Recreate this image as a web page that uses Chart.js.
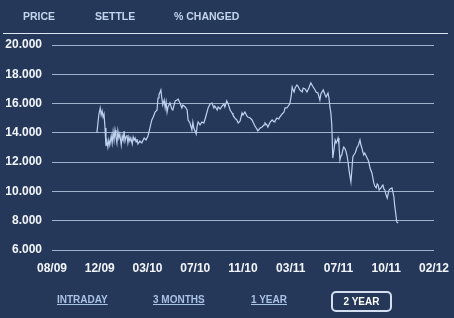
<!DOCTYPE html>
<html>
<head>
<meta charset="utf-8">
<script src="https://cdn.jsdelivr.net/npm/chart.js@4.4.1/dist/chart.umd.min.js"></script>
<style>
  html, body { margin: 0; padding: 0; background: #25385a; }
  #wrap { position: relative; width: 454px; height: 318px; overflow: hidden; background: #25385a;
          font-family: "Liberation Sans", Arial, sans-serif; }
  #c { position: absolute; left: 0; top: 0; }
  .hdr { position: absolute; top: 10px; font-size: 10.5px; font-weight: bold; color: #c3d4ec; line-height: 12px; white-space: nowrap; }
  #hline { position: absolute; left: 3px; top: 33px; width: 445px; height: 1px; background: #dbe5f3; }
  .btn { position: absolute; top: 294px; font-size: 10px; font-weight: bold; color: #a9c1e3; line-height: 12px;
         text-decoration: underline; white-space: nowrap; }
  #sel { position: absolute; left: 331px; top: 291px; width: 57px; height: 17px; border: 2px solid #d3dff0;
         border-radius: 5px; font-size: 10px; font-weight: bold; color: #ffffff; line-height: 17px; text-align: center; }
</style>
</head>
<body>
<div id="wrap">
  <canvas id="c" width="454" height="318"></canvas>
  <div class="hdr" style="left:23px">PRICE</div>
  <div class="hdr" style="left:95px">SETTLE</div>
  <div class="hdr" style="left:174px">% CHANGED</div>
  <div id="hline"></div>
  <div class="btn" style="left:57px">INTRADAY</div>
  <div class="btn" style="left:153px">3 MONTHS</div>
  <div class="btn" style="left:251px">1 YEAR</div>
  <div id="sel">2 YEAR</div>
</div>
<script>
// Tick labels along the time axis (evenly spaced positions 0..8)
const tickLabels = ["08/09", "12/09", "03/10", "07/10", "11/10", "03/11", "07/11", "10/11", "02/12"];

// Series: position on the time axis (in tick units) and price
const xPos = [
  0.94,0.98,1.01,1.03,1.05,1.07,1.09,1.11,1.13,1.15,1.17,1.19,1.21,1.24,1.26,1.28,1.30,1.32,1.34,1.36,
  1.38,1.40,1.42,1.45,1.47,1.49,1.51,1.53,1.55,1.57,1.59,1.61,1.63,1.65,1.68,1.70,1.72,1.74,1.76,1.78,
  1.80,1.84,1.88,1.93,1.97,2.01,2.05,2.09,2.12,2.16,2.20,2.22,2.24,2.28,2.30,2.32,2.35,2.37,2.39,2.41,
  2.43,2.47,2.51,2.53,2.58,2.62,2.64,2.68,2.72,2.74,2.79,2.83,2.85,2.89,2.93,2.95,2.97,3.02,3.04,3.06,
  3.10,3.14,3.18,3.20,3.23,3.27,3.31,3.35,3.39,3.41,3.46,3.48,3.52,3.56,3.60,3.62,3.66,3.69,3.73,3.77,
  3.79,3.83,3.87,3.90,3.94,3.98,4.00,4.04,4.08,4.10,4.15,4.19,4.23,4.25,4.29,4.31,4.36,4.40,4.44,4.46,
  4.50,4.52,4.57,4.61,4.65,4.67,4.71,4.75,4.77,4.82,4.86,4.88,4.92,4.96,4.98,5.01,5.03,5.05,5.07,5.09,
  5.13,5.15,5.19,5.24,5.26,5.30,5.34,5.38,5.42,5.47,5.51,5.53,5.57,5.61,5.63,5.68,5.72,5.74,5.78,5.80,
  5.82,5.84,5.86,5.88,5.91,5.93,5.95,5.97,5.99,6.01,6.03,6.05,6.07,6.09,6.11,6.14,6.16,6.18,6.20,6.22,
  6.26,6.28,6.30,6.32,6.35,6.37,6.39,6.41,6.45,6.47,6.49,6.51,6.53,6.55,6.60,6.62,6.64,6.66,6.70,6.72,
  6.74,6.76,6.79,6.81,6.83,6.85,6.89,6.91,6.93,6.95,6.97,6.99,7.02,7.04,7.06,7.08,7.12,7.14,7.16,7.18,
  7.20,7.22,7.25
];
const prices = [
  13990,15220,15700,15220,15490,15080,15290,14330,13100,13440,13030,13510,13170,13790,13310,14060,13510,14200,13720,13310,
  14130,13650,13920,13170,13790,13510,14130,13440,13720,13850,13310,13720,13440,13650,13240,13720,13510,13650,13380,13580,
  13240,13440,13310,13650,13510,13790,14330,14880,15080,15420,15560,16380,16590,16930,16380,15900,16240,15700,16110,15420,
  15770,16040,15630,15560,16180,16240,16310,16040,15700,15900,15770,15560,14880,14670,14200,14740,14330,13920,14470,14740,
  14540,14740,14670,14880,15220,15700,15970,16040,15700,15830,15560,15770,15630,15830,15970,15770,16180,15970,15560,15360,
  15220,15010,14880,14670,14810,15360,15220,15420,15150,15080,15010,14880,14610,14470,14260,14130,14330,14400,14540,14670,
  14540,14400,14740,14880,14740,14810,15010,14950,15080,15290,15420,15700,15700,15900,15970,16520,17130,16930,16790,17060,
  17270,17200,16930,16790,17060,17000,16790,17060,17410,17130,16930,16790,16720,16240,16650,16930,16590,16450,16720,16380,
  15770,15360,14540,12280,12970,13510,13310,13440,13650,13170,12150,12420,12490,12830,13030,12900,12690,12420,12010,11460,
  10650,11460,12350,12490,12620,12830,13030,13100,13510,13170,12970,12690,12490,12620,12280,12150,11940,11600,11260,10920,
  10580,10370,10240,10510,10440,10100,10240,10370,10440,10170,10100,9830,9550,9830,10100,10170,10240,9960,9620,8940,
  8460,7910,7840
];

// Value axis ticks
const yMin = 6000, yMax = 20000, yStep = 2000;

function fmt(v) { return String(v).replace(/\B(?=(\d{3})+(?!\d))/g, '.'); }

const points = xPos.map((x, i) => ({ x: x, y: prices[i] }));

new Chart(document.getElementById('c'), {
  type: 'line',
  data: {
    datasets: [{
      data: points,
      borderColor: '#bcd2ee',
      borderWidth: 1.2,
      pointRadius: 0,
      tension: 0,
      fill: false
    }]
  },
  options: {
    responsive: false,
    animation: false,
    devicePixelRatio: 1,
    layout: { padding: { left: 0, right: 20, top: 45, bottom: 38 } },
    plugins: { legend: { display: false }, tooltip: { enabled: false } },
    scales: {
      x: {
        type: 'linear',
        min: 0, max: tickLabels.length - 1,
        afterFit: s => { s.height = 30; s.paddingLeft = 0; s.paddingRight = 0; },
        afterBuildTicks: s => { s.ticks = tickLabels.map((_, i) => ({ value: i })); },
        ticks: {
          stepSize: 1,
          autoSkip: false,
          maxRotation: 0,
          padding: 11,
          color: '#f2f5fa',
          font: { family: '"Liberation Sans", Arial, sans-serif', size: 12, weight: 'bold' },
          callback: v => tickLabels[v] ?? ''
        },
        grid: { display: false, drawTicks: false },
        border: { display: false }
      },
      y: {
        min: yMin, max: yMax,
        afterFit: s => { s.width = 52; },
        ticks: {
          stepSize: yStep,
          padding: 10,
          color: '#f2f5fa',
          font: { family: '"Liberation Sans", Arial, sans-serif', size: 12, weight: 'bold' },
          callback: v => fmt(v)
        },
        grid: { color: '#9fb3cf', lineWidth: 1, drawTicks: false },
        border: { display: false }
      }
    }
  }
});
</script>
</body>
</html>
